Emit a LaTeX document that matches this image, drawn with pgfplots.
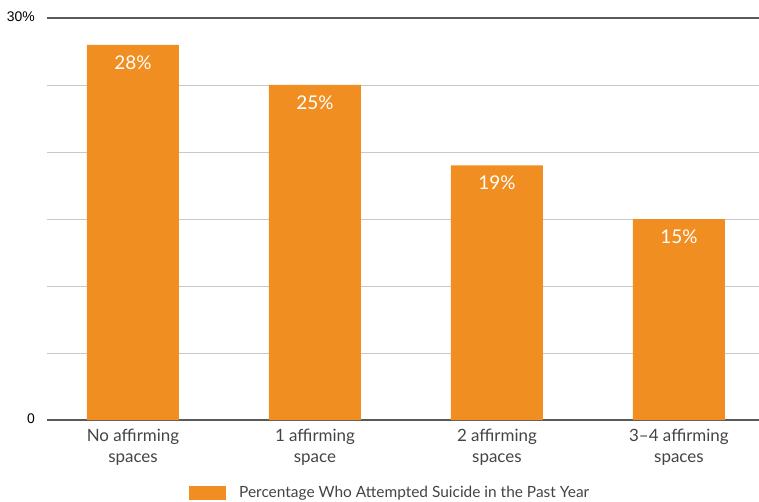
\documentclass[border=0pt]{standalone}
\usepackage{pgfplots}
\pgfplotsset{compat=1.18}
\usepackage{fontspec}
\setmainfont{Lato}
\newfontfamily\arial{Liberation Sans}
\definecolor{barorange}{HTML}{F08E22}
\definecolor{gridgray}{HTML}{C8C8C8}
\definecolor{linegray}{HTML}{5A5A5A}
\definecolor{textgray}{HTML}{444444}

\begin{document}
\begin{tikzpicture}
\begin{axis}[
  scale only axis,
  width=712bp, height=402bp,
  xmin=-0.4725, xmax=3.44,
  ymin=0, ymax=30,
  ybar, bar width=92bp,
  xtick={0,1,2,3},
  xticklabels={{No affirming\\spaces},{1 affirming\\space},{2 affirming\\spaces},{3–4 affirming\\spaces}},
  xticklabel style={align=center, font=\fontsize{17}{21}\selectfont, text=textgray, inner sep=0pt, yshift=-9bp},
  ytick={0,5,10,15,20,25,30},
  yticklabels={0,,,,,,30\%},
  yticklabel style={font=\arial\fontsize{14}{16}\selectfont, text=black, inner sep=0pt, xshift=-12bp, yshift=1bp},
  major tick length=0pt,
  ymajorgrids,
  grid style={gridgray, line width=0.8bp},
  separate axis lines,
  y axis line style={draw=none},
  x axis line style={draw=linegray, line width=1.6bp},
  /pgf/number format/assume math mode=true,
  nodes near coords={\pgfmathprintnumber{\pgfplotspointmeta}\%},
  every node near coord/.append style={anchor=north, inner sep=0pt, yshift=-10.5bp, text=white, font=\fontsize{19}{22}\selectfont},
  legend style={at={(0.482,-0.1816)}, anchor=center, draw=none, fill=none,
    font=\fontsize{15.5}{18}\selectfont, text=textgray,
    /tikz/every even column/.append style={column sep=0pt}},
  legend image code/.code={\fill[barorange] (0bp,-7bp) rectangle (37bp,7bp);},
  legend cell align=left,
]
\addplot[fill=barorange, draw=none] coordinates {(0,28) (1,25) (2,19) (3,15)};
\addlegendentry{\hspace{11bp}Percentage Who Attempted Suicide in the Past Year}
\coordinate (bl) at (rel axis cs:0,0);
\coordinate (tr) at (rel axis cs:1,1);
\end{axis}
\pgfresetboundingbox
\path ([shift={(-47bp,-82bp)}]bl) rectangle ([shift={(0bp,18bp)}]tr);
\end{tikzpicture}
\end{document}
